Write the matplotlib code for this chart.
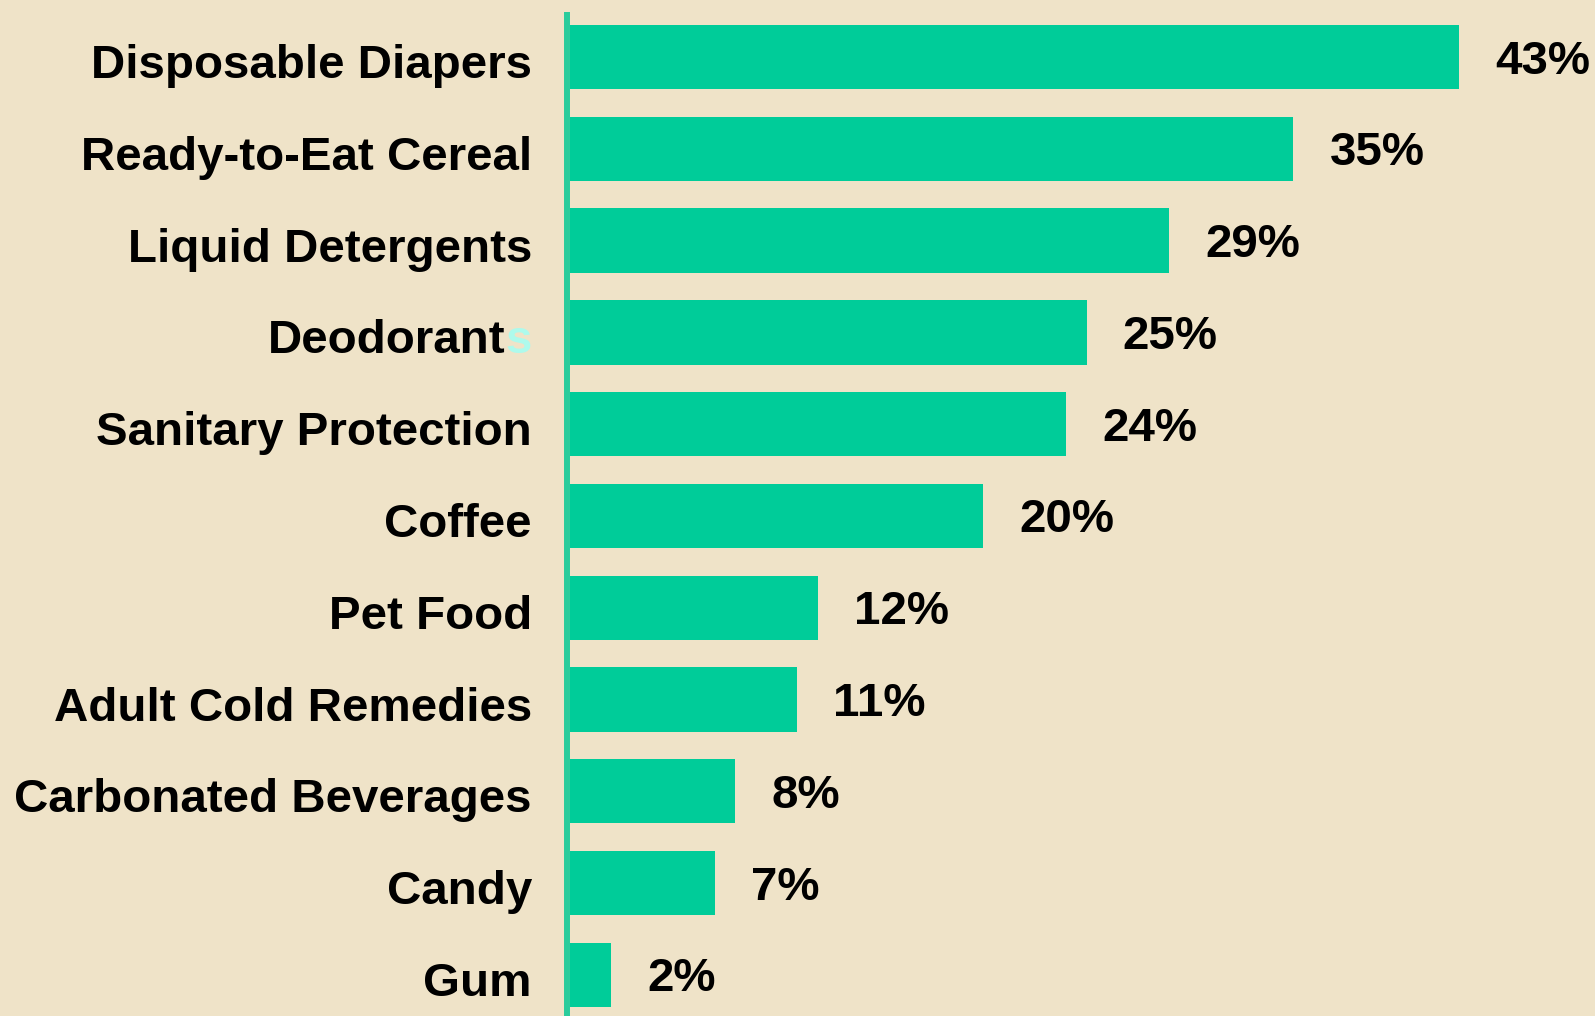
import matplotlib.pyplot as plt

categories = [
    'Disposable Diapers',
    'Ready-to-Eat Cereal',
    'Liquid Detergents',
    'Deodorants',
    'Sanitary Protection',
    'Coffee',
    'Pet Food',
    'Adult Cold Remedies',
    'Carbonated Beverages',
    'Candy',
    'Gum',
]
shares = [43, 35, 29, 25, 24, 20, 12, 11, 8, 7, 2]
value_labels = ['43%', '35%', '29%', '25%', '24%', '20%', '12%', '11%', '8%', '7%', '2%']

bg = '#efe3c8'
bar_color = '#00cc99'
font = 'Liberation Sans'
fsize = 34.2

fig = plt.figure(figsize=(15.95, 10.16), dpi=100, facecolor=bg)
ax = fig.add_axes([570 / 1595, 0, 1 - 570 / 1595, 1 - 12 / 1016])
ax.set_facecolor(bg)

ypos = list(range(len(categories)))
ax.barh(ypos, shares, height=0.70, color=bar_color, zorder=2)

ax.set_xlim(0, 49.6)
ax.set_ylim(10.447, -0.49)
for s in ax.spines.values():
    s.set_visible(False)
ax.set_xticks([])
ax.set_yticks([])

# vertical axis line, just left of the bars
ax.axvline(-0.15, color='#2acc9c', lw=4.3, zorder=3, clip_on=False,
           solid_capstyle='butt')

for y, name in zip(ypos, categories):
    if name == 'Deodorants':
        tail = ax.text(-1.84, y + 0.23, 's', ha='right', va='baseline',
                       fontsize=fsize, fontweight='bold', family=font, color='#aefaec')
        ax.annotate('Deodorant', xy=(0, 0), xycoords=tail, ha='right', va='bottom',
                    fontsize=fsize, fontweight='bold', family=font, color='black')
    else:
        ax.text(-1.84, y + 0.23, name, ha='right', va='baseline',
                fontsize=fsize, fontweight='bold', family=font, color='black')

for y, v, lab in zip(ypos, shares, value_labels):
    ax.text(v + 1.75, y + 0.18, lab, ha='left', va='baseline',
            fontsize=fsize, fontweight='bold', family=font, color='black')

plt.savefig('out.png', dpi=100, facecolor=bg)
